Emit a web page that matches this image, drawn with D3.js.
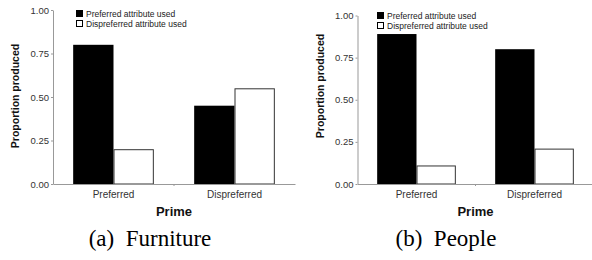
<html>
<head>
<script src="https://cdnjs.cloudflare.com/ajax/libs/d3/7.8.5/d3.min.js"></script>
<style>
  body { margin: 0; background: #fff; }
</style>
</head>
<body>
<svg id="chart"></svg>
<script>
    // values
    var primes = ["Preferred", "Dispreferred"];
    var seriesNames = ["Preferred attribute used", "Dispreferred attribute used"];
    var furniturePreferred = [0.80, 0.45];
    var furnitureDispreferred = [0.20, 0.55];
    var peoplePreferred = [0.89, 0.80];
    var peopleDispreferred = [0.11, 0.21];
    var yTicks = [0, 0.25, 0.50, 0.75, 1.00];
    var captions = ["(a)\u2002Furniture", "(b)\u2002People"];

    var width = 592,
        height = 260;

    var sans = "'Liberation Sans', Arial, sans-serif",
        serif = "'Liberation Serif', 'Times New Roman', serif";

    var svg = d3.select("#chart")
        .attr("width", width)
        .attr("height", height);

    var panels = [
        { pref: furniturePreferred, dispref: furnitureDispreferred, caption: captions[0],
          x0: 53, x1: 295, top: 10, bottom: 184, labelX: 19, labelY: 96, legX: 76, legY: 14, captionX: 150 },
        { pref: peoplePreferred, dispref: peopleDispreferred, caption: captions[1],
          x0: 357.5, x1: 593.5, top: 15.5, bottom: 184, labelX: 324, labelY: 86, legX: 377, legY: 16, captionX: 446 }
    ];

    panels.forEach(function(p) {
        var g = svg.append("g");

        var x = d3.scaleBand()
            .domain(primes)
            .range([p.x0, p.x1]);

        var xs = d3.scaleBand()
            .domain(seriesNames)
            .range([0, x.bandwidth()])
            .paddingOuter(0.5);

        var y = d3.scaleLinear()
            .domain([0, 1])
            .range([p.bottom, p.top]);

        var rows = primes.map(function(d, i) {
            return { prime: d, values: [p.pref[i], p.dispref[i]] };
        });

        var groups = g.selectAll(".grp")
            .data(rows)
            .enter().append("g")
            .attr("class", "grp")
            .attr("transform", function(d) { return "translate(" + x(d.prime) + ",0)"; });

        groups.selectAll("rect")
            .data(function(d) { return d.values.map(function(v, j) { return { s: seriesNames[j], v: v, j: j }; }); })
            .enter().append("rect")
            .attr("x", function(d) { return xs(d.s) + (d.j ? 0.5 : 0); })
            .attr("y", function(d) { return y(d.v) + (d.j ? 0.5 : 0); })
            .attr("width", function(d) { return xs.bandwidth() - (d.j ? 1 : 0); })
            .attr("height", function(d) { return p.bottom - y(d.v) - (d.j ? 0.5 : 0); })
            .attr("fill", function(d) { return d.j ? "#fff" : "#000"; })
            .attr("stroke", function(d) { return d.j ? "#333" : "none"; })
            .attr("stroke-width", 1);

        // y axis
        var yAxis = g.append("g")
            .attr("transform", "translate(" + p.x0 + ",0)")
            .call(d3.axisLeft(y).tickValues(yTicks).tickFormat(d3.format(".2f")).tickSize(2).tickSizeOuter(0).tickPadding(2));
        yAxis.select(".domain").attr("stroke", "#999");
        yAxis.selectAll(".tick line").attr("stroke", "#999");
        yAxis.selectAll("text")
            .style("font-family", sans)
            .attr("font-size", 9.5)
            .attr("fill", "#333");

        // x axis
        var xAxis = g.append("g")
            .attr("transform", "translate(0," + p.bottom + ")")
            .call(d3.axisBottom(x).tickSize(0).tickSizeOuter(0).tickPadding(7));
        xAxis.select(".domain").attr("stroke", "#999");
        xAxis.selectAll("text")
            .style("font-family", sans)
            .attr("font-size", 10)
            .attr("fill", "#333");
        xAxis.append("line")
            .attr("x1", x(primes[1])).attr("x2", x(primes[1]))
            .attr("y1", 0).attr("y2", 2)
            .attr("stroke", "#999");

        // axis titles
        g.append("text")
            .attr("transform", "translate(" + p.labelX + "," + p.labelY + ") rotate(-90)")
            .attr("text-anchor", "middle")
            .style("font-family", sans)
            .attr("font-size", 10.5)
            .attr("font-weight", "bold")
            .attr("fill", "#111")
            .text("Proportion produced");

        g.append("text")
            .attr("x", x(primes[1]))
            .attr("y", 216)
            .attr("text-anchor", "middle")
            .style("font-family", sans)
            .attr("font-size", 13)
            .attr("font-weight", "bold")
            .attr("fill", "#111")
            .text("Prime");

        // legend
        var leg = g.append("g")
            .attr("transform", "translate(" + p.legX + "," + p.legY + ")");
        seriesNames.forEach(function(s, j) {
            leg.append("rect")
                .attr("x", 0.5).attr("y", j * 10 - 3.5)
                .attr("width", 6).attr("height", 6)
                .attr("fill", j ? "#fff" : "#000")
                .attr("stroke", "#000")
                .attr("stroke-width", 1);
            leg.append("text")
                .attr("x", 10)
                .attr("y", j * 10 + 3)
                .style("font-family", sans)
                .attr("font-size", 8.5)
                .attr("fill", "#222")
                .text(s);
        });

        // caption
        svg.append("text")
            .attr("x", p.captionX)
            .attr("y", 246)
            .attr("text-anchor", "middle")
            .style("font-family", serif)
            .attr("font-size", 23)
            .attr("fill", "#000")
            .text(p.caption);
    });
</script>
</body>
</html>
